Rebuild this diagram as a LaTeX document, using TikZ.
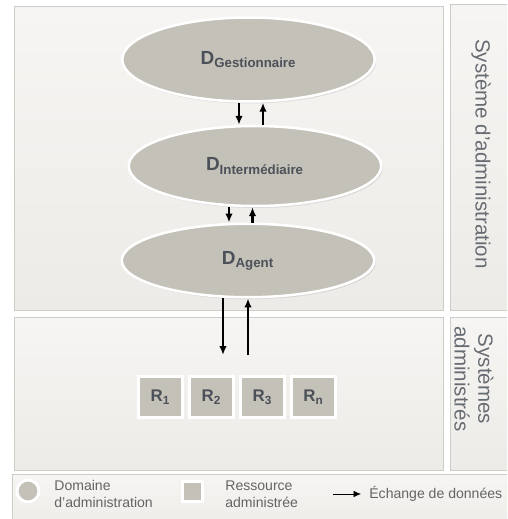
\documentclass[tikz,border=0pt]{standalone}
\usepackage{fontspec}
\setmainfont{Liberation Sans}
\usepackage{tikz}
\usetikzlibrary{shapes.geometric, arrows.meta, positioning, shadows}
\definecolor{panelfill}{RGB}{236, 235, 231}
\definecolor{paneltop}{RGB}{246, 245, 243}
\definecolor{panelline}{RGB}{206, 204, 198}
\definecolor{domgray}{RGB}{196, 193, 185}
\definecolor{labelgray}{RGB}{76, 81, 89}
\definecolor{legendgray}{RGB}{100, 100, 100}

\begin{document}
\begin{tikzpicture}[
    x=0.02cm, y=-0.02cm,
    every node/.style={font=\small},
    panel/.style={rectangle, draw=panelline, top color=paneltop, bottom color=panelfill, anchor=north west, inner sep=0pt},
    dombox/.style={ellipse, draw=white, line width=0.05cm, fill=domgray, inner sep=0pt, minimum width=5.05cm,
        drop shadow={opacity=0.2, shadow xshift=0.03cm, shadow yshift=-0.04cm}},
    dlabel/.style={text=labelgray, font=\fontsize{10.8}{12}\selectfont\bfseries},
    res/.style={rectangle, draw=white, line width=0.06cm, fill=domgray, minimum width=0.88cm, minimum height=0.82cm,
        inner sep=0pt, text=labelgray, font=\fontsize{9.6}{11}\selectfont\bfseries,
        drop shadow={opacity=0.2, shadow xshift=0.02cm, shadow yshift=-0.03cm}},
    flow/.style={-{Latex[length=1.8mm, width=1.5mm]}, line width=0.05cm},
    side/.style={rotate=-90, text=labelgray!85, font=\fontsize{11.7}{13.5}\selectfont, align=center},
    legtext/.style={text=legendgray, font=\fontsize{8}{9.4}\selectfont, align=left, anchor=west, inner sep=0pt}
]
\useasboundingbox (0,0) rectangle (507,519);
\clip (0,0) rectangle (507,519);
\fill[white] (0,0) rectangle (507,519);
% panels
\node[panel, minimum width=8.58cm, minimum height=6.08cm] at (14,6) (admin) {};
\node[panel, minimum width=1.4cm, minimum height=6.12cm] at (450,4) (adminside) {};
\node[panel, minimum width=8.58cm, minimum height=3.06cm] at (14,317) (managed) {};
\node[panel, minimum width=1.4cm, minimum height=3.06cm] at (450,317) (managedside) {};
\node[panel, minimum width=10.2cm, minimum height=1.2cm] at (12,474) (legend) {};
\node[side] at (481,154) (admintitle) {Système d'administration};
\node[side] at (474,379) (managedtitle) {Systèmes\\administrés};
% domaines
\node[dombox, minimum height=1.68cm] at (248.5,59.5) (gest) {};
\node[dlabel] at (gest) {D\textsubscript{Gestionnaire}};
\node[dombox, minimum height=1.6cm] at (255,166) (inter) {};
\node[dlabel] at (inter) {D\textsubscript{Intermédiaire}};
\node[dombox, minimum height=1.47cm] at (248,260.5) (agent) {};
\node[dlabel] at (agent) {D\textsubscript{Agent}};
% ressources
\node[res] at (160.5,397) (r1) {R\textsubscript{1}};
\node[res, right=0.08cm of r1] (r2) {R\textsubscript{2}};
\node[res, right=0.08cm of r2] (r3) {R\textsubscript{3}};
\node[res, right=0.08cm of r3] (rn) {R\textsubscript{n}};
\coordinate (link) at ([yshift=0.4cm]r2.north);
% echanges
\draw[flow] ([xshift=-0.19cm]gest.south) -- ([xshift=-0.19cm]gest.south |- inter.north);
\draw[flow] ([xshift=0.29cm]gest.south |- inter.north) -- ([xshift=0.29cm]gest.south);
\draw[flow] ([xshift=-0.38cm]agent.north |- inter.south) -- ([xshift=-0.38cm]agent.north);
\draw[flow] ([xshift=0.09cm]agent.north) -- ([xshift=0.09cm]agent.north |- inter.south);
\draw[flow] ([xshift=-0.5cm]agent.south) -- ([xshift=-0.5cm]agent.south |- link);
\draw[flow] (agent.south |- link) -- (agent.south);
% legende
\node[circle, draw=white, line width=0.06cm, fill=domgray, minimum size=0.44cm, inner sep=0pt,
    drop shadow={opacity=0.2, shadow xshift=0.02cm, shadow yshift=-0.03cm}] at (28,491) (legdom) {};
\node[legtext] at (54,494) (legdomtext) {Domaine\\d'administration};
\node[rectangle, draw=white, line width=0.06cm, fill=domgray, minimum size=0.4cm, inner sep=0pt,
    drop shadow={opacity=0.2, shadow xshift=0.02cm, shadow yshift=-0.03cm}] at (192,491) (legres) {};
\node[legtext] at (225,494) (legrestext) {Ressource\\administrée};
\coordinate (legflow) at (333,494);
\node[legtext] at (369,494) (legflowtext) {Échange de données};
\draw[-{Latex[length=1.5mm, width=1.3mm]}, thin] (legflow) -- ([xshift=-0.16cm]legflowtext.west);
\end{tikzpicture}
\end{document}
